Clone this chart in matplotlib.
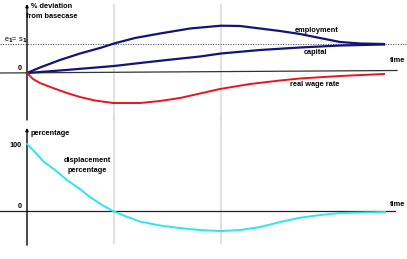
import matplotlib
matplotlib.use("Agg")
from matplotlib import pyplot as plt

plt.rcParams['font.family'] = ['Liberation Sans', 'DejaVu Sans']
plt.rcParams['font.weight'] = 'bold'

# arbitrary time units; grey lines mark t=87 and t=194
marks = [87, 194]

t_emp = [0, 13, 33, 53, 73, 87, 108, 133, 163, 194, 213, 233, 253, 273, 293, 313, 333, 357]
employment = [0, 5.5, 13, 19.5, 25, 29.5, 35, 39.5, 44.5, 47.3, 47, 44.5, 42, 39, 35, 31, 29.5, 29]

t_cap = [0, 33, 87, 113, 140, 173, 194, 233, 273, 313, 357]
capital = [0, 2.5, 7, 10, 13, 16.5, 19.5, 23, 25.5, 27.5, 28.5]

t_wage = [0, 6, 13, 26, 40, 53, 68, 86, 113, 133, 153, 173, 193, 223, 253, 273, 313, 357]
wage = [0, -6, -10, -15, -20, -24, -27.5, -30, -30, -28, -25, -20.5, -16, -11, -7.5, -5.5, -3, -1]

steady = 29  # e1 = s1 level

t_disp = [0, 8, 16, 28, 40, 53, 63, 75, 86, 98, 113, 133, 153, 173, 194, 213, 233, 253, 273, 293, 313, 358]
displacement = [100, 88, 74.6, 61.2, 46.3, 32.8, 20.9, 9, 0, -7.5, -15.7, -21.6, -25.4, -28.4, -29.9,
                -28.4, -23.9, -16.4, -10, -6, -3, -1.5]

xlim = (-27, 380)

fig = plt.figure(figsize=(4.07, 2.59), dpi=100)
ax1 = fig.add_axes([0, 1 - 118 / 259, 1, 118 / 259])
ax2 = fig.add_axes([0, 0, 1, 141 / 259])
for ax in (ax1, ax2):
    ax.set_xlim(*xlim)
    ax.axis('off')
ax1.set_ylim(-45, 73)
ax2.set_ylim(-71.6, 138.8)

fs = 5.3
navy = '#141478'

# grey marker lines
for m in marks:
    ax1.plot([m, m], [68, -47], color='#d8d8d8', lw=1.1, zorder=1, clip_on=False)
    ax2.plot([m, m], [140, -48], color='#d8d8d8', lw=1.1, zorder=1, clip_on=False)

# axes
ax1.annotate('', xy=(0, 69), xytext=(0, -47),
             arrowprops=dict(arrowstyle='-|>', lw=1, color='k', mutation_scale=4,
                             shrinkA=0, shrinkB=0), annotation_clip=False)
ax2.annotate('', xy=(0, 124), xytext=(0, -51),
             arrowprops=dict(arrowstyle='-|>', lw=1, color='k', mutation_scale=4,
                             shrinkA=0, shrinkB=0), annotation_clip=False)
ax1.plot([-27, 370], [0, 2.5], color='#333333', lw=0.9, zorder=2)
ax1.plot(xlim, [steady, steady], color='#444444', lw=0.6, ls=(0, (1.5, 1.5)), zorder=2)
ax2.plot([-27, 368], [0, 0], color='#222222', lw=0.9, zorder=2)

# curves
ax1.plot(t_emp, employment, color=navy, lw=1.6, zorder=3)
ax1.plot(t_cap, capital, color=navy, lw=1.6, zorder=3)
ax1.plot(t_wage, wage, color='#e8141e', lw=1.4, zorder=3)
ax2.plot(t_disp, displacement, color='#30e4ec', lw=1.4, zorder=3)

# labels top
ax1.text(25, 66, '% deviation', fontsize=fs, ha='center', va='center')
ax1.text(25, 57, 'from basecase', fontsize=fs, ha='center', va='center')
ax1.text(-23, 33, 'e$_1$= s$_1$', fontsize=fs, ha='left', va='center', fontweight='normal')
ax1.text(-5, 4, '0', fontsize=fs, ha='right', va='center')
ax1.text(290, 43, 'employment', fontsize=fs, ha='center', va='center')
ax1.text(288, 20, 'capital', fontsize=fs, ha='center', va='center')
ax1.text(363, 12, 'time', fontsize=fs, ha='left', va='center')
ax1.text(288, -11, 'real wage rate', fontsize=fs, ha='center', va='center')

# labels bottom
ax2.text(4, 116, 'percentage', fontsize=fs, ha='left', va='center')
ax2.text(-5, 98.5, '100', fontsize=fs, ha='right', va='center')
ax2.text(60, 76, 'displacement', fontsize=fs, ha='center', va='center')
ax2.text(60, 61, 'percentage', fontsize=fs, ha='center', va='center')
ax2.text(-5, 6, '0', fontsize=fs, ha='right', va='center')
ax2.text(363, 10.4, 'time', fontsize=fs, ha='left', va='center')

fig.savefig('out.png', dpi=100)
